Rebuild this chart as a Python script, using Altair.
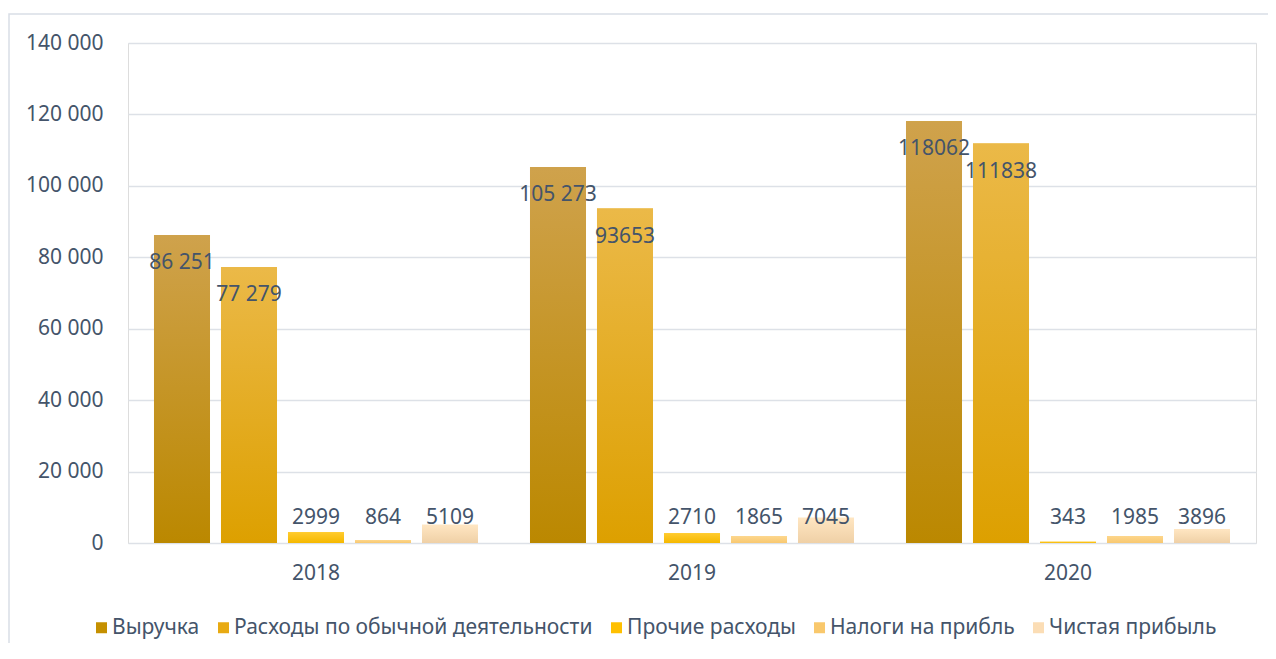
import altair as alt
import pandas as pd

years = ["2018", "2019", "2020"]
series = ["Выручка", "Расходы по обычной деятельности", "Прочие расходы",
          "Налоги на прибль", "Чистая прибыль"]
revenue = [86251, 105273, 118062]
expenses = [77279, 93653, 111838]
other_exp = [2999, 2710, 343]
taxes = [864, 1865, 1985]
net_profit = [5109, 7045, 3896]
label_text = [
    ["86 251", "105 273", "118062"],
    ["77 279", "93653", "111838"],
    ["2999", "2710", "343"],
    ["864", "1865", "1985"],
    ["5109", "7045", "3896"],
]
values = [revenue, expenses, other_exp, taxes, net_profit]

legend_colors = ["#C59000", "#E8AA12", "#FFC000", "#F9C86C", "#FBDDB5"]
grad_stops = [
    ("#CFA24C", "#BB8800"),
    ("#EBB948", "#DDA000"),
    ("#FFCB2E", "#F5B800"),
    ("#FDD68C", "#F8C870"),
    ("#FFE6C2", "#EFD0A6"),
]

rows = []
for si, s in enumerate(series):
    for yi, y in enumerate(years):
        rows.append({"year": y, "series": s, "value": values[si][yi],
                     "label": label_text[si][yi]})
df = pd.DataFrame(rows)

FONT = "Noto Sans"
TXT = "#44546A"
FS = 21

x_enc = alt.X("year:N", sort=years, title=None,
              scale=alt.Scale(paddingInner=0, paddingOuter=0),
              axis=alt.Axis(labelAngle=0, ticks=False, domain=False, grid=False,
                            labelFontSize=FS, labelColor=TXT, labelFont=FONT,
                            labelPadding=19))
xo_enc = alt.XOffset("series:N", sort=series,
                     scale=alt.Scale(domain=series, paddingInner=0.164, paddingOuter=0.388))
y_enc = alt.Y("value:Q", title=None,
              scale=alt.Scale(domain=[0, 140000], nice=False),
              axis=alt.Axis(values=list(range(0, 140001, 20000)), ticks=False, domain=False,
                            gridColor="#DDE1E7", gridWidth=1.5,
                            labelFontSize=FS, labelColor=TXT, labelFont=FONT,
                            labelPadding=25,
                            labelExpr="replace(format(datum.value, ','), regexp(',', 'g'), ' ')"))

base = alt.Chart(df)

bars = base.mark_bar().encode(
    x=x_enc, xOffset=xo_enc, y=y_enc,
    color=alt.Color("series:N", sort=series,
                    scale=alt.Scale(domain=series, range=legend_colors),
                    legend=alt.Legend(title=None, orient="none", direction="horizontal",
                                      legendX=-37, legendY=574,
                                      labelFontSize=FS, labelColor=TXT, labelFont=FONT,
                                      labelLimit=0,
                                      symbolType="square", symbolSize=121,
                                      symbolStrokeWidth=0, labelOffset=0,
                                      columnPadding=13)),
)

grad_layers = []
for s, (c1, c2) in zip(series, grad_stops):
    g = alt.Gradient(gradient="linear", x1=0, x2=0, y1=0, y2=1,
                     stops=[alt.GradientStop(color=c1, offset=0),
                            alt.GradientStop(color=c2, offset=1)])
    grad_layers.append(
        base.transform_filter(alt.datum.series == s).mark_bar(color=g).encode(
            x=alt.X("year:N", sort=years), xOffset=alt.XOffset("series:N", sort=series),
            y="value:Q")
    )

big_labels = base.transform_filter(alt.datum.value > 50000).mark_text(
    dy=28, fontSize=FS, font=FONT, color=TXT, baseline="middle").encode(
    x=alt.X("year:N", sort=years), xOffset=alt.XOffset("series:N", sort=series),
    y="value:Q", text="label:N")

small_labels = base.transform_filter(alt.datum.value <= 50000).transform_calculate(
    zero="0").mark_text(
    dy=-25, fontSize=FS, font=FONT, color=TXT, baseline="middle").encode(
    x=alt.X("year:N", sort=years), xOffset=alt.XOffset("series:N", sort=series),
    y="zero:Q", text="label:N")

frame = alt.Chart(pd.DataFrame({"a": [0]})).mark_rect(
    fill="transparent", stroke="#D9DEE6", strokeWidth=1.5).encode(
    x=alt.value(-119), x2=alt.value(1300), y=alt.value(-29), y2=alt.value(800))

chart = alt.layer(bars, *grad_layers, big_labels, small_labels, frame).properties(
    width=1128, height=500,
    autosize=alt.AutoSizeParams(type="none"),
    padding={"left": 120, "top": 35, "right": 12, "bottom": 100},
).configure_view(stroke="transparent", strokeWidth=0).configure(background="white")

chart.save("out.html", embed_options={"renderer": "svg", "actions": False})
